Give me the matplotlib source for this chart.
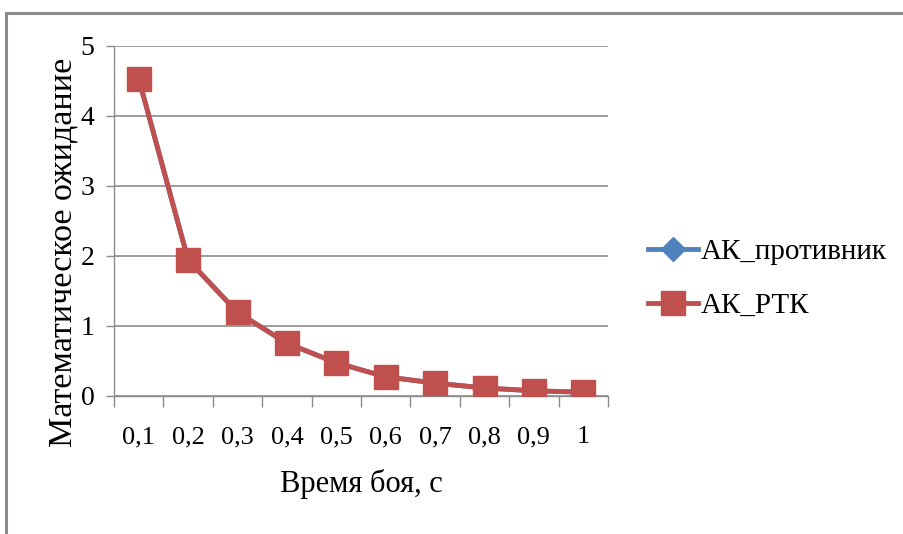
import matplotlib.pyplot as plt
from matplotlib.patches import Rectangle

plt.rcParams['font.family'] = ['Liberation Serif', 'DejaVu Serif']

t = ['0,1', '0,2', '0,3', '0,4', '0,5', '0,6', '0,7', '0,8', '0,9', '1']
ak_enemy = [4.53, 1.94, 1.19, 0.75, 0.47, 0.27, 0.18, 0.11, 0.07, 0.05]
ak_rtk = [4.53, 1.94, 1.19, 0.75, 0.47, 0.27, 0.18, 0.11, 0.07, 0.05]

grey = '#8c8c8c'
fig = plt.figure(figsize=(9.04, 5.34), dpi=100)
# outer chart frame
fig.patches.append(Rectangle((6/904, -0.01), 1.0, 1 - 13/534 + 0.01, transform=fig.transFigure,
                             fill=False, edgecolor='#8a8a8a', linewidth=2.2))

ax = fig.add_axes([114/904, 138.3/534, 494/904, 350/534])
x = list(range(len(t)))
ax.plot(x, ak_enemy, color='#4F81BD', lw=3.5, marker='D', ms=12, label='АК_противник')
ax.plot(x, ak_rtk, color='#C0504D', lw=3.5, marker='s', ms=17, label='АК_РТК')

ax.set_xlim(-0.5, 9.5)
ax.set_ylim(0, 5)
ax.set_yticks(range(6))
ax.set_xticks(x)
ax.set_xticklabels(t)
ax.set_xticks([i - 0.5 for i in range(11)], minor=True)
ax.tick_params(axis='x', which='major', length=0, pad=22, labelsize=19)
ax.tick_params(axis='x', which='minor', length=8, color=grey, width=1)
ax.tick_params(axis='y', length=6, color=grey, width=1, labelsize=20, pad=8)
ax.yaxis.grid(True, color=grey, lw=1.2)
ax.set_axisbelow(True)
for s in ['top', 'right']:
    ax.spines[s].set_visible(False)
for s in ['left', 'bottom']:
    ax.spines[s].set_color(grey)
    ax.spines[s].set_linewidth(1)
ax.spines['bottom'].set_zorder(0.5)

ax.set_xlabel('Время боя, с', fontsize=22, labelpad=15)
ax.set_ylabel('Математическое ожидание', fontsize=24.5)
ax.yaxis.set_label_coords(-0.072, 0.41)

leg = ax.legend(loc='center left', bbox_to_anchor=(622/904, 1 - 279/534), bbox_transform=fig.transFigure,
                frameon=False, fontsize=21, handlelength=1.7, handletextpad=0.1, labelspacing=0.95)

plt.savefig('out.png', dpi=100)
